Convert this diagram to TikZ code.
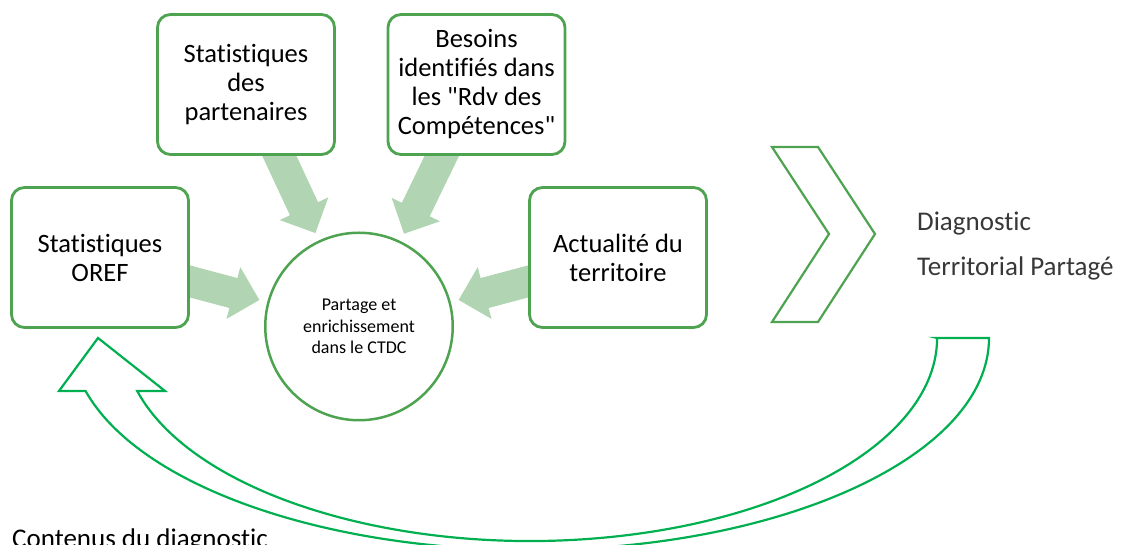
\documentclass[tikz,border=0pt]{standalone}
\usepackage{fontspec}
\setmainfont{Carlito}[Ligatures={NoCommon}]
\usetikzlibrary{arrows.meta,backgrounds}

\definecolor{boxgreen}{HTML}{4EA350}
\definecolor{feedgreen}{HTML}{B1D5B3}
\definecolor{loopgreen}{HTML}{00B050}
\definecolor{textgray}{HTML}{383838}

\tikzset{
    srcbox/.style={draw=boxgreen, line width=2.8pt, fill=white, rounded corners=13pt,
        minimum width=177pt, minimum height=140pt, align=center,
        font=\fontsize{26.5}{29}\selectfont},
    hub/.style={circle, draw=boxgreen, line width=2.5pt, fill=white, minimum size=187.5pt,
        inner sep=0pt, align=center, font=\fontsize{18}{21.5}\selectfont},
    feed/.style={draw=feedgreen, line width=31pt, -{Triangle[width=52pt,length=27pt]}, shorten >=8pt},
    outline/.style={draw=#1, line width=2.2pt, line join=miter},
    bigtext/.style={anchor=base west, inner sep=0pt, font=\fontsize{27}{32}\selectfont}
}

\begin{document}
\begin{tikzpicture}[x=1pt,y=1pt]
    \useasboundingbox (0,0) rectangle (1122,545);
    \clip (0,0) rectangle (1122,545);

    % Draw source boxes and hub
    \node[srcbox] (oref) at (100,287.5) {Statistiques\\OREF};
    \node[srcbox] (partners) at (246,460.5) {Statistiques\\des\\partenaires};
    \node[srcbox] (needs) at (476.5,460.5) {Besoins\\identifiés dans\\les \textquotedbl Rdv des\\Compétences\textquotedbl};
    \node[srcbox] (news) at (618,287.5) {Actualité du\\territoire};
    \node[hub] (hub) at (359,218.5) {Partage et\\enrichissement\\dans le CTDC};

    % Feed arrows (behind the boxes)
    \begin{scope}[on background layer]
        \draw[feed] (oref.center) -- (hub);
        \draw[feed] (partners.center) -- (hub);
        \draw[feed] (needs.center) -- (hub);
        \draw[feed] (news.center) -- (hub);
    \end{scope}

    % Chevron
    \draw[outline=boxgreen] (772,398) -- (818,398) -- (875,311) -- (818,223) -- (772,223) -- (829,311) -- cycle;

    % Result
    \node[bigtext, text=textgray] (diag) at (917,314) {Diagnostic};
    \node[bigtext, text=textgray] (shared) at (917,269) {Territorial Partagé};

    % Loop back arrow
    \draw[outline=loopgreen] (937,207) -- (989,207)
        arc[start angle=0, end angle=-165.52, x radius=459pt, y radius=212pt]
        -- (59,154) -- (98,207) -- (165,154) -- (137.2,154)
        arc[start angle=-164.87, end angle=0, x radius=407pt, y radius=203pt] -- cycle;

    \node[bigtext] (contents) at (12,-2.5) {Contenus du diagnostic};
\end{tikzpicture}
\end{document}
